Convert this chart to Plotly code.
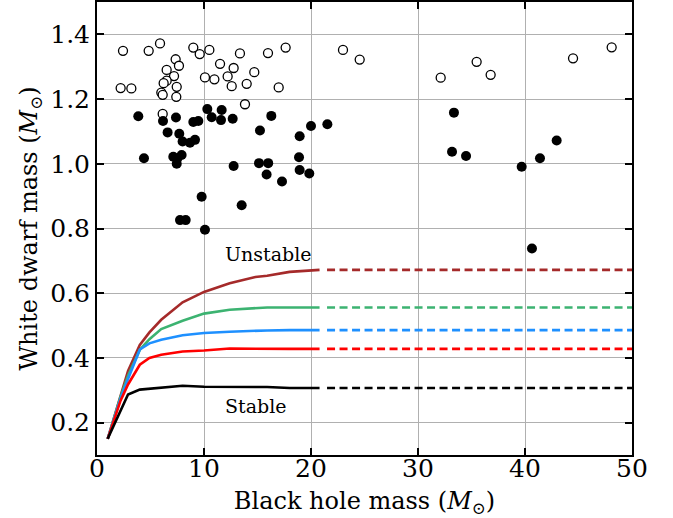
import plotly.graph_objects as go

# Open circles (upper population)
open_x = [2.43, 4.83, 5.89, 9.0, 9.6, 10.5, 13.36, 15.98, 17.63, 7.35, 7.66, 6.51, 7.2, 6.51, 6.23,
          7.45, 6.01, 6.14, 7.41, 2.21, 3.21, 11.5, 12.77, 10.09, 10.97, 12.21, 12.59, 13.99, 14.7,
          16.98, 13.83, 6.14, 22.99, 24.55, 32.12, 35.48, 36.79, 44.49, 48.1]
open_y = [1.349, 1.349, 1.372, 1.359, 1.339, 1.352, 1.341, 1.342, 1.359, 1.323, 1.303, 1.290, 1.271,
          1.257, 1.249, 1.238, 1.220, 1.213, 1.207, 1.234, 1.233, 1.309, 1.296, 1.267, 1.261, 1.270,
          1.240, 1.247, 1.283, 1.236, 1.184, 1.154, 1.352, 1.322, 1.266, 1.315, 1.275, 1.326, 1.360]

# Filled circles
fill_x = [3.86, 6.17, 7.38, 6.6, 7.69, 8.0, 8.69, 9.16, 9.0, 9.47, 10.31, 10.72, 11.59, 11.65, 12.68,
          16.29, 15.23, 20.0, 21.53, 18.94, 4.39, 7.13, 7.5, 7.91, 7.45, 12.77, 15.14, 16.0, 15.85,
          17.29, 18.88, 18.94, 19.84, 9.78, 13.52, 7.76, 8.29, 10.09,
          33.36, 33.18, 34.49, 39.69, 41.4, 42.96, 40.65]
fill_y = [1.147, 1.132, 1.143, 1.097, 1.093, 1.069, 1.065, 1.074, 1.129, 1.132, 1.169, 1.144, 1.135,
          1.166, 1.139, 1.148, 1.103, 1.117, 1.122, 1.085, 1.017, 1.022, 1.016, 1.027, 1.000, 0.993,
          1.002, 1.002, 0.967, 0.945, 1.020, 0.981, 0.970, 0.898, 0.872, 0.826, 0.826, 0.796,
          1.158, 1.037, 1.024, 0.991, 1.017, 1.072, 0.738]

# Stability curves
curve_x = [1.0, 2.2, 2.9, 4.0, 4.9, 6.0, 8.0, 10.0, 12.4, 14.8, 15.9, 18.0, 20.8]
curve_brown = [0.150, 0.285, 0.360, 0.440, 0.479, 0.518, 0.572, 0.604, 0.631, 0.650, 0.654, 0.666, 0.672]
curve_green = [0.150, 0.280, 0.345, 0.425, 0.458, 0.489, 0.515, 0.537, 0.549, 0.555, 0.556, 0.556, 0.556]
curve_blue = [0.150, 0.275, 0.335, 0.426, 0.445, 0.456, 0.470, 0.477, 0.481, 0.485, 0.485, 0.486, 0.486]
curve_red = [0.150, 0.268, 0.318, 0.379, 0.400, 0.410, 0.420, 0.423, 0.429, 0.428, 0.428, 0.428, 0.428]
curve_black = [0.150, 0.240, 0.287, 0.302, 0.305, 0.308, 0.314, 0.311, 0.311, 0.311, 0.310, 0.307, 0.307]
curve_colors = ["#a52a2a", "#3cb371", "#1e90ff", "#ff0000", "#000000"]
dash_x = [21.5, 50.0]

FONT = "DejaVu Serif"

fig = go.Figure()

for ys, c in zip([curve_brown, curve_green, curve_blue, curve_red, curve_black], curve_colors):
    fig.add_trace(go.Scatter(x=curve_x, y=ys, mode="lines", line=dict(color=c, width=2.6),
                             showlegend=False, hoverinfo="skip"))
    fig.add_trace(go.Scatter(x=dash_x, y=[ys[-1], ys[-1]], mode="lines",
                             line=dict(color=c, width=2.6, dash="8px,4.5px"),
                             showlegend=False, hoverinfo="skip"))

fig.add_trace(go.Scatter(x=open_x, y=open_y, mode="markers",
                         marker=dict(size=9, color="white", line=dict(color="black", width=1.3)),
                         showlegend=False))
fig.add_trace(go.Scatter(x=fill_x, y=fill_y, mode="markers",
                         marker=dict(size=10, color="black", line=dict(width=0)),
                         showlegend=False))

fig.add_annotation(x=16.0, y=0.72, text="Unstable", showarrow=False,
                   font=dict(family=FONT, size=19, color="black"))
fig.add_annotation(x=14.85, y=0.25, text="Stable", showarrow=False,
                   font=dict(family=FONT, size=19, color="black"))

axis_common = dict(showgrid=True, gridcolor="#b0b0b0", gridwidth=1, zeroline=False,
                   showline=True, linecolor="black", linewidth=2, mirror="ticks",
                   ticks="inside", ticklen=7, tickwidth=2, tickcolor="black",
                   tickfont=dict(family=FONT, size=25, color="black"), automargin=False)

fig.update_xaxes(range=[0, 50], tickvals=[0, 10, 20, 30, 40, 50], ticklabelstandoff=-10,
                 title=dict(text="Black hole mass (<i>M</i><sub>⊙</sub>)",
                            font=dict(family=FONT, size=24, color="black"), standoff=18),
                 **axis_common)
fig.update_yaxes(range=[0.1, 1.5], tickvals=[0.2, 0.4, 0.6, 0.8, 1.0, 1.2, 1.4],
                 ticktext=["0.2", "0.4", "0.6", "0.8", "1.0", "1.2", "1.4"],
                 title=dict(text="White dwarf mass (<i>M</i><sub>⊙</sub>)",
                            font=dict(family=FONT, size=24, color="black"), standoff=6),
                 **axis_common)

fig.update_layout(width=673, height=518, margin=dict(l=97, r=41, t=2, b=63),
                  plot_bgcolor="white", paper_bgcolor="white")

fig.write_html("out.html")
